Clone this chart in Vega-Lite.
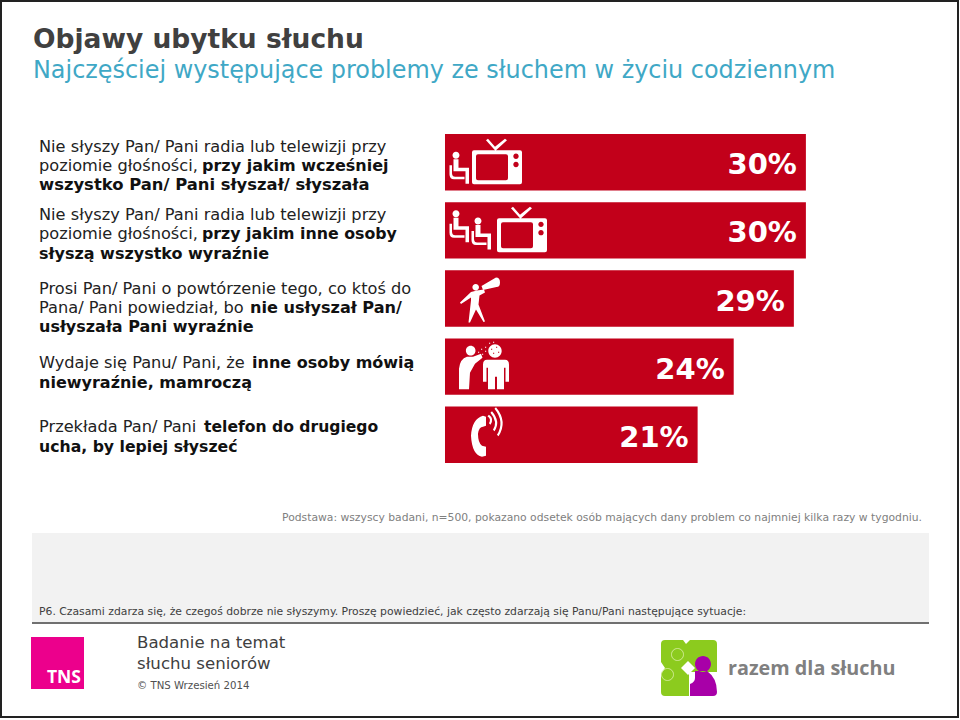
{"$schema":"https://vega.github.io/schema/vega-lite/v6.json","width":960,"height":720,"padding":0,"autosize":{"type":"fit","contains":"padding"},"background":"white","view":{"stroke":null},
"config":{"text":{"font":"DejaVu Sans","baseline":"middle","align":"left"}},
"data":{"values":[
{"problem":"TV wcześniej","pct":30,"icon":"tv1"},
{"problem":"TV inni","pct":30,"icon":"tv2"},
{"problem":"Powtórzenie","pct":29,"icon":"mega"},
{"problem":"Mamroczą","pct":24,"icon":"talk"},
{"problem":"Telefon","pct":21,"icon":"phone"}]},
"encoding":{
"x":{"field":"pct","type":"quantitative","axis":null,"scale":{"domain":[-36.99,42.81],"range":[0,960],"zero":false,"nice":false}},
"y":{"field":"problem","type":"nominal","axis":null,"sort":null,"scale":{"domain":["TV wcześniej","TV inni","Powtórzenie","Mamroczą","Telefon"],"range":[134,463],"paddingInner":0.172,"paddingOuter":0}}},
"layer":[
{"data":{"values":[{"k":"band"}]},"mark":{"type":"rect","fill":"#f2f2f2"},"encoding":{"x":{"value":32},"x2":{"value":929},"y":{"value":533},"y2":{"value":622}}},
{"data":{"values":[{"k":"line"}]},"mark":{"type":"rule","stroke":"#404040","strokeWidth":1.5},"encoding":{"x":{"value":32},"x2":{"value":929},"y":{"value":623}}},
{"data":{"values":[{"k":"frame"}]},"mark":{"type":"rect","fill":null,"stroke":"#222222","strokeWidth":2},"encoding":{"x":{"value":1},"x2":{"value":958},"y":{"value":1},"y2":{"value":717}}},
{"mark":{"type":"bar","color":"#c2001a"}},
{"mark":{"type":"point","filled":true,"fill":"white","opacity":1,"stroke":null,"size":4},"encoding":{"x":{"datum":0,"type":"quantitative"},"shape":{"field":"icon","type":"nominal","legend":null,"scale":{"domain":["tv1","tv2","mega","talk","phone"],"range":[
"M7.5 -7a3.5 3.5 0 1 0 7 0a3.5 3.5 0 1 0 -7 0zM8.5 -3l5 0l0 8.5l10.5 0l0 16l-3.5 0l0 -12.5l-12 0zM4.5 3l2.5 0l0 8q0.2 3.5 3.2 3.5l9.3 0l0 2.5l-10.5 0q-4.5 0 -4.5 -5zM29 -12l46 0q2 0 2 2l0 30q0 2 -2 2l-46 0q-2 0 -2 -2l0 -30q0 -2 2 -2zM33 -8q-2 0 -2 2l0 22q0 2 2 2l28 0q2 0 2 -2l0 -22q0 -2 -2 -2zM68.3 -6a2.7 2.7 0 1 0 5.4 0a2.7 2.7 0 1 0 -5.4 0zM68.3 2.3a2.7 2.7 0 1 0 5.4 0a2.7 2.7 0 1 0 -5.4 0zM50 -12l-9 -10l2 -1.5l7 8l10 -8l2 1.5l-11 10z",
"M7.5 -16.7a3.5 3.5 0 1 0 7 0a3.5 3.5 0 1 0 -7 0zM8.5 -12.7l5 0l0 8.5l10.5 0l0 16l-3.5 0l0 -12.5l-12 0zM4.5 -6.7l2.5 0l0 8q0.2 3.5 3.2 3.5l9.3 0l0 2.5l-10.5 0q-4.5 0 -4.5 -5zM29.5 -9.3a3.5 3.5 0 1 0 7 0a3.5 3.5 0 1 0 -7 0zM30.5 -5.3l5 0l0 8.5l10.5 0l0 16l-3.5 0l0 -12.5l-12 0zM26.5 0.7l2.5 0l0 8q0.2 3.5 3.2 3.5l9.3 0l0 2.5l-10.5 0q-4.5 0 -4.5 -5zM54 -12l46 0q2 0 2 2l0 30q0 2 -2 2l-46 0q-2 0 -2 -2l0 -30q0 -2 2 -2zM58 -8q-2 0 -2 2l0 22q0 2 2 2l28 0q2 0 2 -2l0 -22q0 -2 -2 -2zM93.3 -6a2.7 2.7 0 1 0 5.4 0a2.7 2.7 0 1 0 -5.4 0zM93.3 2.3a2.7 2.7 0 1 0 5.4 0a2.7 2.7 0 1 0 -5.4 0zM75 -12l-9 -10l2 -1.5l7 8l10 -8l2 1.5l-11 10z",
"M27.4 -11.3a3.3 3.3 0 1 0 6.6 0a3.3 3.3 0 1 0 -6.6 0zM15 4L26 -6.5L32 -8L39 -9L40 -6L34.5 -3L33.5 6L40 23L38.5 23.5L31 11L25 24L23.5 24L26 2L26 -1L16 5.5ZM36.5 -12.5L51 -21Q55 -21 55 -16Q55 -11.5 51.5 -11.5L38 -8.5Z",
"M20.9 -16a4.8 4.8 0 1 0 9.6 0a4.8 4.8 0 1 0 -9.6 0zM14 22.5L14 2Q15 -8 22 -10L28 -10L36 -13L37.5 -9L30 -3L25 6L24 22.5ZM43.3 -15.7a6.7 6.7 0 1 1 13.4 0a6.7 6.7 0 1 1 -13.4 0zM46 -18v1.2h1.2v-1.2zM51 -20v1.2h1.2v-1.2zM48 -14v1.2h1.2v-1.2zM53 -15v1.2h1.2v-1.2zM42 -7L60 -7Q64 -7 64 -2L64 15L60.5 15L60.5 1L59 1L59 22.5L52 22.5L52 10L50 10L50 22.5L43 22.5L43 1L41.5 1L41.5 15L38 15L38 -2Q38 -7 42 -7ZM33 -15h1.2v1.2h-1.2zM36 -18h1.2v1.2h-1.2zM40 -20h1.2v1.2h-1.2zM44 -24h1.2v1.2h-1.2zM37 -13h1.2v1.2h-1.2zM40 -16h1.2v1.2h-1.2zM34 -12h1.2v1.2h-1.2zM48 -25h1.2v1.2h-1.2z",
"M38 -19L41 -18L41 -9L38 -8Q34 -8 33 -1Q33 8 37 11L41 12L41 21L37 22Q27 20 26 1Q27 -16 38 -19ZM44 -20Q49.5 -16 45.5 -10L44 -11.5Q46.5 -16 42.5 -18.5ZM47 -23.5Q56 -13 49.5 -3.5L48 -5Q53 -13 45.5 -22ZM51 -27.5Q63 -13 53.5 1.5L52 0Q60 -13 49.5 -26Z"
]}}}},
{"mark":{"type":"text","align":"right","dx":-9,"dy":3,"fontWeight":"bold","fontSize":29,"fill":"white"},"encoding":{"text":{"field":"label"}},"transform":[{"calculate":"datum.pct + '%'","as":"label"}]},
{"data":{"values":[{"t":"Objawy ubytku słuchu"}]},"mark":{"type":"text","fontWeight":"bold","fontSize":26.5,"fill":"#404040"},"encoding":{"x":{"value":33},"y":{"value":40},"text":{"field":"t"}}},
{"data":{"values":[{"t":"Najczęściej występujące problemy ze słuchem w życiu codziennym"}]},"mark":{"type":"text","fontSize":23.9,"fill":"#3fa8c6"},"encoding":{"x":{"value":33},"y":{"value":71},"text":{"field":"t"}}},
{"data":{"values":[{"t":"Podstawa: wszyscy badani, n=500, pokazano odsetek osób mających dany problem co najmniej kilka razy w tygodniu."}]},"mark":{"type":"text","fontSize":10.77,"fill":"#808080","align":"right"},"encoding":{"x":{"value":922},"y":{"value":518},"text":{"field":"t"}}},
{"data":{"values":[{"t":"P6. Czasami zdarza się, że czegoś dobrze nie słyszymy. Proszę powiedzieć, jak często zdarzają się Panu/Pani następujące sytuacje:"}]},"mark":{"type":"text","fontSize":10.8,"fill":"#404040"},"encoding":{"x":{"value":39},"y":{"value":612},"text":{"field":"t"}}},
{"data":{"values":[{"t":"Badanie na temat"}]},"mark":{"type":"text","fontSize":16.6,"fill":"#404040"},"encoding":{"x":{"value":137},"y":{"value":643},"text":{"field":"t"}}},
{"data":{"values":[{"t":"słuchu seniorów"}]},"mark":{"type":"text","fontSize":16.6,"fill":"#404040"},"encoding":{"x":{"value":137},"y":{"value":664},"text":{"field":"t"}}},
{"data":{"values":[{"t":"© TNS Wrzesień 2014"}]},"mark":{"type":"text","fontSize":10.2,"fill":"#505050"},"encoding":{"x":{"value":137},"y":{"value":686},"text":{"field":"t"}}},
{"data":{"values":[{"k":"tns"}]},"mark":{"type":"rect","fill":"#ec008c"},"encoding":{"x":{"value":31},"x2":{"value":84},"y":{"value":637},"y2":{"value":689}}},
{"data":{"values":[{"t":"TNS"}]},"mark":{"type":"text","font":"Open Sans","fontWeight":"bold","fontSize":17.5,"fill":"white","align":"right"},"encoding":{"x":{"value":81},"y":{"value":678},"text":{"field":"t"}}},
{"data":{"values":[{"k":"puzzle"}]},"mark":{"type":"point","filled":true,"opacity":1,"fill":"#8ccb1e","stroke":null,"size":4,"shape":"M-24 -28L-6 -28L-3 -24L1 -28L24 -28Q28 -28 28 -24L28 4L0 4L0 28L-24 28Q-28 28 -28 24L-28 6L-24 0L-28 -6L-28 -24Q-28 -28 -24 -28Z"},"encoding":{"x":{"value":689},"y":{"value":668}}},
{"data":{"values":[{"k":"rings"}]},"mark":{"type":"point","filled":false,"opacity":1,"stroke":"#d4ec9a","strokeWidth":1,"size":4,"shape":"M-17.5 -13.5a6 6 0 1 0 12 0a6 6 0 1 0 -12 0zM-27.5 6.5a6 6 0 1 0 12 0a6 6 0 1 0 -12 0z"},"encoding":{"x":{"value":689},"y":{"value":668}}},
{"data":{"values":[{"k":"person"}]},"mark":{"type":"point","filled":true,"opacity":1,"fill":"#a800a8","stroke":null,"size":4,"shape":"M6 -4a8 8 0 1 0 16 0a8 8 0 1 0 -16 0zM6 3L18 3Q28 10 28 24Q28 28 24 28L1 28L1 16Q6 14 6 10Z"},"encoding":{"x":{"value":689},"y":{"value":668}}},
{"data":{"values":[{"k":"gap"}]},"mark":{"type":"point","filled":true,"opacity":1,"fill":"white","stroke":null,"size":4,"shape":"M-7 0L0 -7L7 0L0 7Z"},"encoding":{"x":{"value":688},"y":{"value":668}}},
{"data":{"values":[{"t":"razem dla słuchu"}]},"mark":{"type":"text","font":"Open Sans","fontWeight":"bold","fontSize":19.8,"fill":"#808080"},"encoding":{"x":{"value":728},"y":{"value":669},"text":{"field":"t"}}},
{"data":{"values":[{"problem":"TV wcześniej","t":"Nie słyszy Pan/ Pani radia lub telewizji przy\npoziomie głośności,"}]},"mark":{"type":"text","fontSize":16.2,"fill":"#222222","lineBreak":"\n","lineHeight":19,"dy":-15},"encoding":{"x":{"value":39},"text":{"field":"t"}}},
{"data":{"values":[{"problem":"TV inni","t":"Nie słyszy Pan/ Pani radia lub telewizji przy\npoziomie głośności,"}]},"mark":{"type":"text","fontSize":16.2,"fill":"#222222","lineBreak":"\n","lineHeight":19,"dy":-15},"encoding":{"x":{"value":39},"text":{"field":"t"}}},
{"data":{"values":[{"problem":"Powtórzenie","t":"Prosi Pan/ Pani o powtórzenie tego, co ktoś do\nPana/ Pani powiedział, bo"}]},"mark":{"type":"text","fontSize":16.2,"fill":"#222222","lineBreak":"\n","lineHeight":19,"dy":-9.6},"encoding":{"x":{"value":39},"text":{"field":"t"}}},
{"data":{"values":[{"problem":"Mamroczą","t":"Wydaje się Panu/ Pani, że"}]},"mark":{"type":"text","fontSize":16.2,"fill":"#222222","dy":-4},"encoding":{"x":{"value":39},"text":{"field":"t"}}},
{"data":{"values":[{"problem":"Telefon","t":"Przekłada Pan/ Pani"}]},"mark":{"type":"text","fontSize":16.2,"fill":"#222222","dy":-8},"encoding":{"x":{"value":39},"text":{"field":"t"}}},
{"data":{"values":[{"problem":"TV wcześniej","t":"przy jakim wcześniej"}]},"mark":{"type":"text","fontSize":16,"fontWeight":"bold","fill":"#111111","dx":163,"dy":4},"encoding":{"x":{"value":39},"text":{"field":"t"}}},
{"data":{"values":[{"problem":"TV wcześniej","t":"wszystko Pan/ Pani słyszał/ słyszała"}]},"mark":{"type":"text","fontSize":16.4,"fontWeight":"bold","fill":"#111111","dy":23},"encoding":{"x":{"value":39},"text":{"field":"t"}}},
{"data":{"values":[{"problem":"TV inni","t":"przy jakim inne osoby"}]},"mark":{"type":"text","fontSize":15.8,"fontWeight":"bold","fill":"#111111","dx":163,"dy":4},"encoding":{"x":{"value":39},"text":{"field":"t"}}},
{"data":{"values":[{"problem":"TV inni","t":"słyszą wszystko wyraźnie"}]},"mark":{"type":"text","fontSize":16,"fontWeight":"bold","fill":"#111111","dy":24},"encoding":{"x":{"value":39},"text":{"field":"t"}}},
{"data":{"values":[{"problem":"Powtórzenie","t":"nie usłyszał Pan/"}]},"mark":{"type":"text","fontSize":16.1,"fontWeight":"bold","fill":"#111111","dx":211,"dy":9.5},"encoding":{"x":{"value":39},"text":{"field":"t"}}},
{"data":{"values":[{"problem":"Powtórzenie","t":"usłyszała Pani wyraźnie"}]},"mark":{"type":"text","fontSize":16,"fontWeight":"bold","fill":"#111111","dy":28.5},"encoding":{"x":{"value":39},"text":{"field":"t"}}},
{"data":{"values":[{"problem":"Mamroczą","t":"inne osoby mówią"}]},"mark":{"type":"text","fontSize":16,"fontWeight":"bold","fill":"#111111","dx":213,"dy":-4},"encoding":{"x":{"value":39},"text":{"field":"t"}}},
{"data":{"values":[{"problem":"Mamroczą","t":"niewyraźnie, mamroczą"}]},"mark":{"type":"text","fontSize":16,"fontWeight":"bold","fill":"#111111","dy":16},"encoding":{"x":{"value":39},"text":{"field":"t"}}},
{"data":{"values":[{"problem":"Telefon","t":"telefon do drugiego"}]},"mark":{"type":"text","fontSize":15.6,"fontWeight":"bold","fill":"#111111","dx":165,"dy":-8},"encoding":{"x":{"value":39},"text":{"field":"t"}}},
{"data":{"values":[{"problem":"Telefon","t":"ucha, by lepiej słyszeć"}]},"mark":{"type":"text","fontSize":15.7,"fontWeight":"bold","fill":"#111111","dy":12},"encoding":{"x":{"value":39},"text":{"field":"t"}}}
]}
